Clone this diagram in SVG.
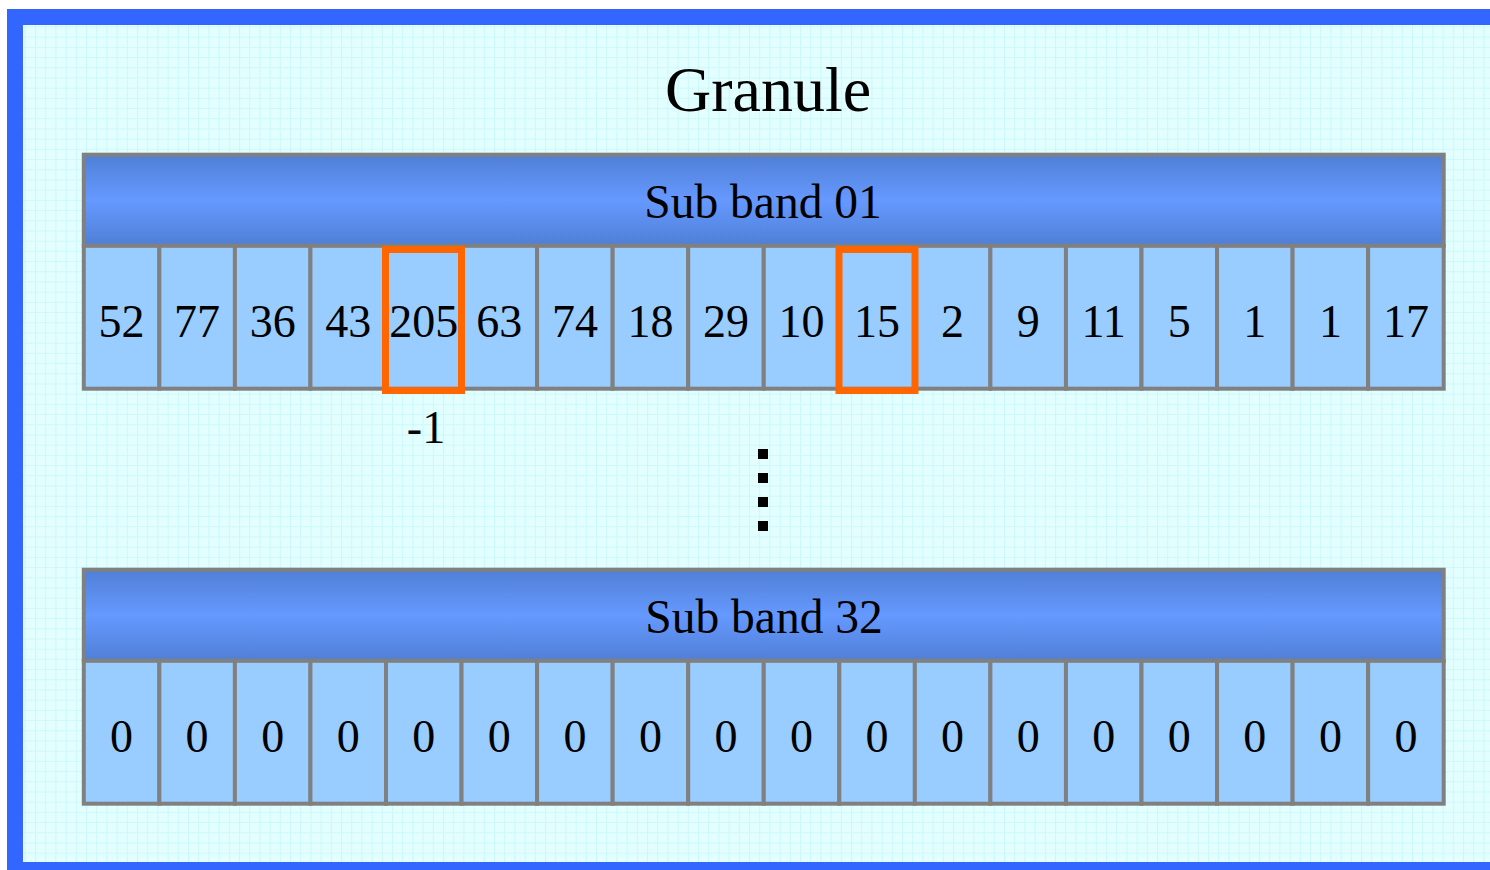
<svg xmlns="http://www.w3.org/2000/svg" width="1490" height="870" viewBox="0 0 1490 870">
  <defs>
    <pattern id="grid" x="24.8" y="26.5" width="10.2" height="10.2" patternUnits="userSpaceOnUse">
      <rect width="10.2" height="10.2" fill="#E2FEFE"/>
      <path d="M0 0.5 H10.2 M0.5 0 V10.2" stroke="#CCF8FB" stroke-width="1" fill="none"/>
    </pattern>
    <linearGradient id="hdr" x1="0" y1="0" x2="0" y2="1">
      <stop offset="0" stop-color="#4F7FD6"/>
      <stop offset="0.5" stop-color="#6699FF"/>
      <stop offset="1" stop-color="#4F7FD6"/>
    </linearGradient>
  </defs>
  <style>
    .hdr { fill: url(#hdr); stroke: #808080; stroke-width: 4; }
    .cell { fill: #99CCFF; stroke: #808080; stroke-width: 4; }
    .sel { fill: none; stroke: #FF6600; stroke-width: 7; }
    .num { font-family: "Liberation Serif", "Times New Roman", serif; font-size: 46px; fill: #000; text-anchor: middle; }
    .band { font-family: "Liberation Serif", "Times New Roman", serif; font-size: 47.5px; fill: #000; text-anchor: middle; }
    .title { font-family: "Liberation Serif", "Times New Roman", serif; font-size: 64px; fill: #000; text-anchor: middle; }
    .dot { fill: #000; }
  </style>

  <!-- frame -->
  <rect x="7" y="9" width="1483" height="861" fill="#3366FF"/>
  <rect x="23" y="25" width="1467" height="837" fill="url(#grid)"/>

  <g id="granule-title">
    <text class="title" x="768" y="111">Granule</text>
  </g>

  <!-- Sub band 01 -->
  <g id="subband01">
    <rect class="hdr" x="83.8" y="154.7" width="1359.9" height="91.1"/>
    <text class="band" x="763" y="218">Sub band 01</text>
    <g id="subband01-cells">
      <rect class="cell" x="83.8" y="245.8" width="75.55" height="142.9"/>
      <rect class="cell" x="159.35" y="245.8" width="75.55" height="142.9"/>
      <rect class="cell" x="234.9" y="245.8" width="75.55" height="142.9"/>
      <rect class="cell" x="310.45" y="245.8" width="75.55" height="142.9"/>
      <rect class="cell" x="386" y="245.8" width="75.55" height="142.9"/>
      <rect class="cell" x="461.55" y="245.8" width="75.55" height="142.9"/>
      <rect class="cell" x="537.1" y="245.8" width="75.55" height="142.9"/>
      <rect class="cell" x="612.65" y="245.8" width="75.55" height="142.9"/>
      <rect class="cell" x="688.2" y="245.8" width="75.55" height="142.9"/>
      <rect class="cell" x="763.75" y="245.8" width="75.55" height="142.9"/>
      <rect class="cell" x="839.3" y="245.8" width="75.55" height="142.9"/>
      <rect class="cell" x="914.85" y="245.8" width="75.55" height="142.9"/>
      <rect class="cell" x="990.4" y="245.8" width="75.55" height="142.9"/>
      <rect class="cell" x="1065.95" y="245.8" width="75.55" height="142.9"/>
      <rect class="cell" x="1141.5" y="245.8" width="75.55" height="142.9"/>
      <rect class="cell" x="1217.05" y="245.8" width="75.55" height="142.9"/>
      <rect class="cell" x="1292.6" y="245.8" width="75.55" height="142.9"/>
      <rect class="cell" x="1368.15" y="245.8" width="75.55" height="142.9"/>
    </g>
    <g id="subband01-values">
      <text class="num" x="121.6" y="337">52</text>
      <text class="num" x="197.1" y="337">77</text>
      <text class="num" x="272.7" y="337">36</text>
      <text class="num" x="348.2" y="337">43</text>
      <text class="num" x="423.8" y="337">205</text>
      <text class="num" x="499.3" y="337">63</text>
      <text class="num" x="574.9" y="337">74</text>
      <text class="num" x="650.4" y="337">18</text>
      <text class="num" x="726" y="337">29</text>
      <text class="num" x="801.5" y="337">10</text>
      <text class="num" x="877.1" y="337">15</text>
      <text class="num" x="952.6" y="337">2</text>
      <text class="num" x="1028.2" y="337">9</text>
      <text class="num" x="1103.7" y="337">11</text>
      <text class="num" x="1179.3" y="337">5</text>
      <text class="num" x="1254.8" y="337">1</text>
      <text class="num" x="1330.4" y="337">1</text>
      <text class="num" x="1405.9" y="337">17</text>
    </g>
  </g>

  <g id="highlight-205">
    <rect class="sel" x="385.5" y="249.5" width="76" height="141"/>
  </g>
  <g id="highlight-15">
    <rect class="sel" x="839" y="249.5" width="76" height="141"/>
  </g>
  <g id="label-minus1">
    <text class="num" x="426" y="443">-1</text>
  </g>

  <g id="ellipsis">
    <rect class="dot" x="758" y="449" width="10" height="10"/>
    <rect class="dot" x="758" y="473" width="10" height="10"/>
    <rect class="dot" x="758" y="497" width="10" height="10"/>
    <rect class="dot" x="758" y="521" width="10" height="10"/>
  </g>

  <!-- Sub band 32 -->
  <g id="subband32">
    <rect class="hdr" x="83.8" y="569.7" width="1359.9" height="91.1"/>
    <text class="band" x="764" y="633">Sub band 32</text>
    <g id="subband32-cells">
      <rect class="cell" x="83.8" y="660.8" width="75.55" height="142.9"/>
      <rect class="cell" x="159.35" y="660.8" width="75.55" height="142.9"/>
      <rect class="cell" x="234.9" y="660.8" width="75.55" height="142.9"/>
      <rect class="cell" x="310.45" y="660.8" width="75.55" height="142.9"/>
      <rect class="cell" x="386" y="660.8" width="75.55" height="142.9"/>
      <rect class="cell" x="461.55" y="660.8" width="75.55" height="142.9"/>
      <rect class="cell" x="537.1" y="660.8" width="75.55" height="142.9"/>
      <rect class="cell" x="612.65" y="660.8" width="75.55" height="142.9"/>
      <rect class="cell" x="688.2" y="660.8" width="75.55" height="142.9"/>
      <rect class="cell" x="763.75" y="660.8" width="75.55" height="142.9"/>
      <rect class="cell" x="839.3" y="660.8" width="75.55" height="142.9"/>
      <rect class="cell" x="914.85" y="660.8" width="75.55" height="142.9"/>
      <rect class="cell" x="990.4" y="660.8" width="75.55" height="142.9"/>
      <rect class="cell" x="1065.95" y="660.8" width="75.55" height="142.9"/>
      <rect class="cell" x="1141.5" y="660.8" width="75.55" height="142.9"/>
      <rect class="cell" x="1217.05" y="660.8" width="75.55" height="142.9"/>
      <rect class="cell" x="1292.6" y="660.8" width="75.55" height="142.9"/>
      <rect class="cell" x="1368.15" y="660.8" width="75.55" height="142.9"/>
    </g>
    <g id="subband32-values">
      <text class="num" x="121.6" y="752">0</text>
      <text class="num" x="197.1" y="752">0</text>
      <text class="num" x="272.7" y="752">0</text>
      <text class="num" x="348.2" y="752">0</text>
      <text class="num" x="423.8" y="752">0</text>
      <text class="num" x="499.3" y="752">0</text>
      <text class="num" x="574.9" y="752">0</text>
      <text class="num" x="650.4" y="752">0</text>
      <text class="num" x="726" y="752">0</text>
      <text class="num" x="801.5" y="752">0</text>
      <text class="num" x="877.1" y="752">0</text>
      <text class="num" x="952.6" y="752">0</text>
      <text class="num" x="1028.2" y="752">0</text>
      <text class="num" x="1103.7" y="752">0</text>
      <text class="num" x="1179.3" y="752">0</text>
      <text class="num" x="1254.8" y="752">0</text>
      <text class="num" x="1330.4" y="752">0</text>
      <text class="num" x="1405.9" y="752">0</text>
    </g>
  </g>
</svg>
